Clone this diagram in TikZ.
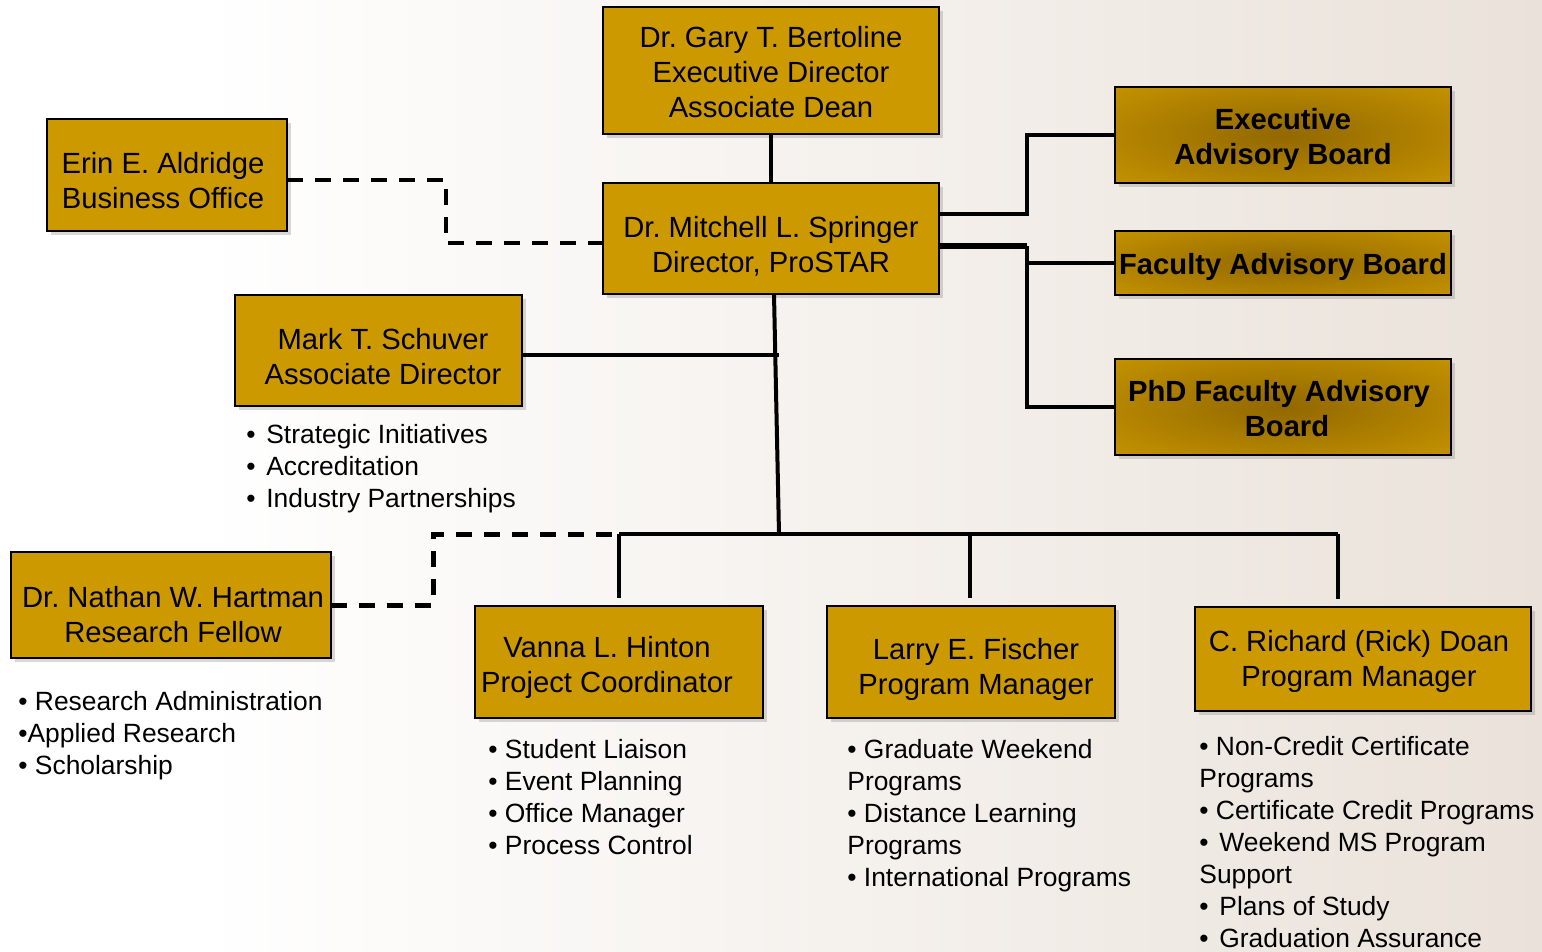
\documentclass[tikz,border=0pt]{standalone}
\usepackage{fontspec}
\setmainfont{Liberation Sans}
\usetikzlibrary{shadows,calc}
\definecolor{gold}{RGB}{204,153,0}
\definecolor{goldlight}{RGB}{216,163,0}
\definecolor{golddark}{RGB}{146,104,0}
\definecolor{bgbeige}{RGB}{234,226,218}
\pgfdeclareradialshading{boardshade}{\pgfpoint{0bp}{0bp}}{color(0bp)=(golddark); color(50bp)=(goldlight); color(80bp)=(goldlight)}
\newcommand{\boxfont}{\fontsize{14.6pt}{17.5pt}\selectfont}
\newcommand{\listfont}{\fontsize{13.2pt}{16pt}\selectfont}
\frenchspacing
\begin{document}
\frenchspacing
\begin{tikzpicture}[x=0.5pt,y=-0.5pt,
  base/.style={draw=black,line width=1.3pt,inner sep=0pt,outer sep=0pt,
    drop shadow={shadow xshift=2pt,shadow yshift=-2pt,opacity=0.3}},
  gbox/.style={base,fill=gold},
  board/.style={base,shading=boardshade},
  btxt/.style={font=\boxfont,align=center,inner sep=0pt,text depth=0pt},
  bbtxt/.style={btxt,font=\boxfont\bfseries},
  ltxt/.style={font=\listfont,align=left,inner sep=0pt,anchor=north west},
  conn/.style={line width=2pt},
  dconn/.style={line width=2pt,dash pattern=on 8pt off 6pt},
]
\fill[white] (0,0) rectangle (1542,952);
\shade[left color=white,right color=bgbeige] (200,0) rectangle (1542,952);
\useasboundingbox (0,0) rectangle (1542,952);

% boxes
\node[gbox,minimum width=168pt,minimum height=63.5pt] (bert) at (771,70.5) {};
\node[gbox,minimum width=168pt,minimum height=55.5pt] (spr) at (771,238.5) {};
\node[gbox,minimum width=120pt,minimum height=56pt] (ald) at (167,175) {};
\node[gbox,minimum width=143.5pt,minimum height=55.5pt] (sch) at (378.5,350.5) {};
\node[gbox,minimum width=160pt,minimum height=53pt] (har) at (171,605) {};
\node[gbox,minimum width=144pt,minimum height=56pt] (hin) at (619,662) {};
\node[gbox,minimum width=144pt,minimum height=56pt] (fis) at (971,662) {};
\node[gbox,minimum width=168pt,minimum height=52pt] (doa) at (1363,659) {};
\node[board,minimum width=168pt,minimum height=48pt] (exe) at (1283,135) {};
\node[board,minimum width=168pt,minimum height=32pt] (fac) at (1283,263) {};
\node[board,minimum width=168pt,minimum height=48pt] (phd) at (1283,407) {};

% box texts
\node[btxt] (bertT) at (771,72) {Dr. Gary T. Bertoline\\Executive Director\\Associate Dean};
\node[btxt] (sprT) at (771,244.5) {Dr. Mitchell L. Springer\\Director, ProSTAR};
\node[btxt] (aldT) at (163,180.5) {Erin E. Aldridge\\Business Office};
\node[btxt] (schT) at (383,356.5) {Mark T. Schuver\\Associate Director};
\node[btxt] (harT) at (173,614) {Dr. Nathan W. Hartman\\Research Fellow};
\node[btxt] (hinT) at (607,664.5) {Vanna L. Hinton\\Project Coordinator};
\node[btxt] (fisT) at (976,666.5) {Larry E. Fischer\\Program Manager};
\node[btxt] (doaT) at (1359,658) {C. Richard (Rick) Doan\\Program Manager};
\node[bbtxt] (exeT) at (1283,136) {Executive\\Advisory Board};
\node[bbtxt] (facT) at (1283,264) {Faculty Advisory Board};
\node[bbtxt] (phdT) at (1279,408) {PhD Faculty Advisory\\\hspace*{8pt}Board};

% lists
\node[ltxt] (schL) at (246,424) {\makebox[10pt][l]{•}Strategic Initiatives\\\makebox[10pt][l]{•}Accreditation\\\makebox[10pt][l]{•}Industry Partnerships};
\node[ltxt] (harL) at (18,691) {• Research Administration\\•Applied Research\\• Scholarship};
\node[ltxt] (hinL) at (488,739) {• Student Liaison\\• Event Planning\\• Office Manager\\• Process Control};
\node[ltxt] (fisL) at (847,739) {• Graduate Weekend\\Programs\\• Distance Learning\\Programs\\• International Programs};
\node[ltxt] (doaL) at (1199,736) {• Non-Credit Certificate\\Programs\\• Certificate Credit Programs\\\makebox[10pt][l]{•}Weekend MS Program\\Support\\\makebox[10pt][l]{•}Plans of Study\\\makebox[10pt][l]{•}Graduation Assurance};

% junctions
\coordinate (j1) at (1027,214);
\coordinate (j2) at (1027,246);
\coordinate (j3) at (446,180);
\coordinate (j4) at (446,243);
\coordinate (j5) at (779,534);
\coordinate (j6) at (779,355);
\coordinate (j7) at (619,534);
\coordinate (j8) at (1338,534);
\coordinate (j9) at (433,534);
\coordinate (j10) at (970,534);

% connectors
\draw[conn] (bert.south) -- (spr.north);
\draw[conn,line width=1.6pt] (spr.east |- j1) -- (j1) |- (exe.west);
\draw[conn,line width=2.6pt] (spr.east |- j2) -- (j2);
\draw[conn,line width=1.6pt] (j2) |- (phd.west);
\draw[conn,line width=1.6pt] (j2 |- fac.west) -- (fac.west);
\draw[dconn] (ald.east |- j3) -- (j3) -- (j4) -- (spr.west |- j4);
\draw[conn] ([xshift=1.5pt]spr.south) -- (j5);
\draw[conn] (sch.east |- j6) -- (j6);
\draw[conn] (j7) -- (j8);
\draw[conn] (j7) -- ($(j7 |- hin.north)+(0,-8)$);
\draw[conn] (j10) -- ($(j10 |- fis.north)+(0,-8)$);
\draw[conn] (j8) -- ($(j8 |- doa.north)+(0,-8)$);
\draw[dconn,line width=2.5pt] (har.east) -| (j9) -- (j7);
\end{tikzpicture}
\end{document}
